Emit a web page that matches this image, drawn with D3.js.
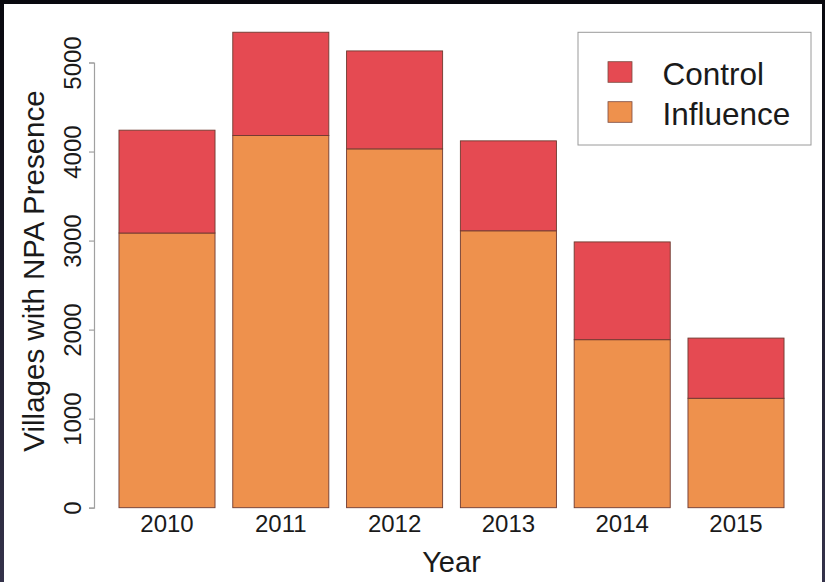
<!DOCTYPE html>
<html>
<head>
<meta charset="utf-8">
<script src="https://cdn.jsdelivr.net/npm/d3@7"></script>
<style>
  html, body { margin: 0; padding: 0; background: #101018; }
  svg { display: block; }
  text { font-family: "Liberation Sans", Arial, sans-serif; fill: #1a1a1a; }
</style>
</head>
<body>
<svg id="chart" width="825" height="582"></svg>
<script>
// ---- data ----
const years = ["2010", "2011", "2012", "2013", "2014", "2015"];
const influence = [3085, 4180, 4030, 3110, 1887, 1229];
const control = [1155, 1160, 1100, 1010, 1098, 676];
const yTicks = [0, 1000, 2000, 3000, 4000, 5000];
const seriesNames = ["Control", "Influence"];
const seriesColors = ["#e54a52", "#ee914d"];

const W = 825, H = 582;
const svg = d3.select("#chart");

// frame background
const defs = svg.append("defs");
const grad = defs.append("linearGradient").attr("id", "bg").attr("x1", 0).attr("y1", 0).attr("x2", 0).attr("y2", 1);
grad.append("stop").attr("offset", "0%").attr("stop-color", "#08080e");
grad.append("stop").attr("offset", "100%").attr("stop-color", "#34324a");
svg.append("rect").attr("width", W).attr("height", H).attr("fill", "url(#bg)");
svg.append("rect").attr("x", 4).attr("y", 4).attr("width", 818).attr("height", H - 4).attr("fill", "#ffffff");

// scales
const x = d3.scaleBand().domain(years).range([110.1, 792.9]).paddingInner(0.156).paddingOuter(0.078);
const y = d3.scaleLinear().domain([0, 5000]).range([507.7, 62.5]);

// stacked data
const rows = years.map((yr, i) => ({ year: yr, Influence: influence[i], Control: control[i] }));
const stack = d3.stack().keys(["Influence", "Control"])(rows);
const color = d3.scaleOrdinal().domain(seriesNames).range(seriesColors);

svg.append("g").selectAll("g").data(stack).join("g")
  .attr("fill", d => color(d.key))
  .selectAll("rect").data(d => d).join("rect")
  .attr("x", d => x(d.data.year))
  .attr("width", x.bandwidth())
  .attr("y", d => y(d[1]))
  .attr("height", d => y(d[0]) - y(d[1]))
  .attr("stroke", "#6e3a30")
  .attr("stroke-width", 0.9);

// y axis
const yAxis = d3.axisLeft(y).tickValues(yTicks).tickSize(5).tickPadding(0).tickFormat(d3.format("d"));
const gy = svg.append("g").attr("transform", "translate(94,0)").call(yAxis);
gy.select(".domain").attr("stroke", "#a0a0a0").attr("stroke-width", 1.2);
gy.selectAll(".tick line").attr("stroke", "#a0a0a0").attr("stroke-width", 1.2);
gy.selectAll(".tick text")
  .attr("x", null).attr("dy", null)
  .attr("transform", "translate(-13,0) rotate(-90)")
  .attr("text-anchor", "middle")
  .attr("font-size", 24)
  .style("font-family", '"Liberation Sans", Arial, sans-serif')
  .attr("fill", "#1a1a1a");

// x labels (no axis line)
const xAxis = d3.axisBottom(x).tickSize(0).tickPadding(0);
const gx = svg.append("g").attr("transform", "translate(0,508)").call(xAxis);
gx.select(".domain").remove();
gx.selectAll(".tick text")
  .attr("y", 23.7).attr("dy", null)
  .attr("font-size", 24)
  .style("font-family", '"Liberation Sans", Arial, sans-serif')
  .attr("fill", "#1a1a1a");

// axis titles
svg.append("text").attr("x", 451.5).attr("y", 571.5).attr("text-anchor", "middle")
  .attr("font-size", 29).text("Year");
svg.append("text").attr("transform", "translate(44,271) rotate(-90)").attr("text-anchor", "middle")
  .attr("font-size", 29.5).text("Villages with NPA Presence");

// legend
const lg = svg.append("g");
lg.append("rect").attr("x", 578).attr("y", 32.3).attr("width", 233).attr("height", 112.7)
  .attr("fill", "#ffffff").attr("stroke", "#9a9a9a").attr("stroke-width", 1);
seriesNames.forEach((name, i) => {
  const cy = 72 + i * 40;
  lg.append("rect").attr("x", 608).attr("y", cy - 10.3).attr("width", 24).attr("height", 20.6)
    .attr("fill", color(name)).attr("stroke", "#7a4a40").attr("stroke-width", 0.8);
  lg.append("text").attr("x", 662.5).attr("y", cy + 12.8).attr("font-size", 31.5).text(name);
});
</script>
</body>
</html>
